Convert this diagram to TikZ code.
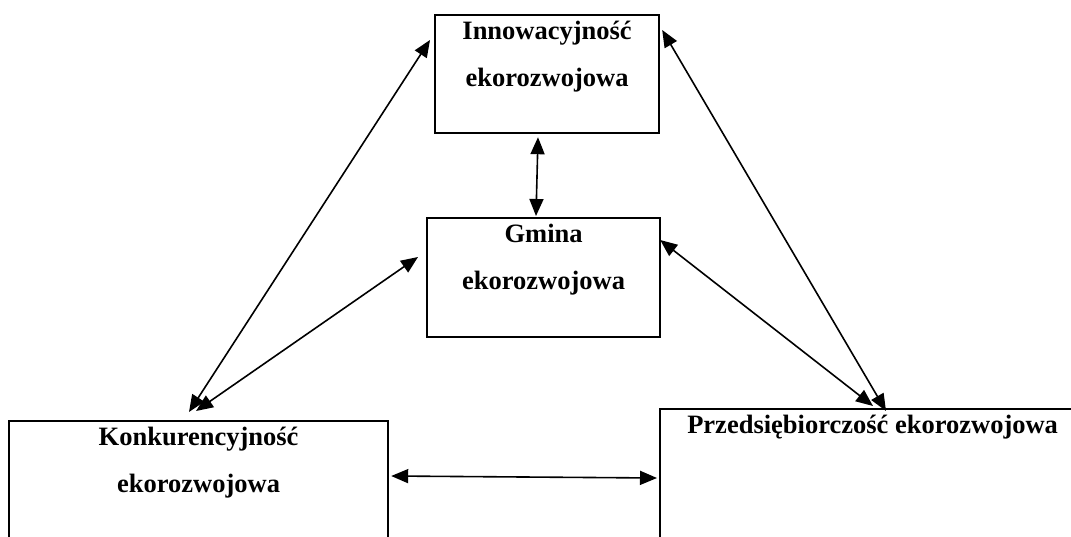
\documentclass[tikz,border=0pt]{standalone}
\usepackage{fontspec}
\setmainfont{Liberation Serif}
\usetikzlibrary{arrows.meta,positioning}
\tikzset{
	box/.style 2 args={draw,line width=2.2pt,anchor=north west,inner sep=0pt,minimum width=#1,minimum height=#2},
	lbl/.style={font=\bfseries\fontsize{26.5}{47}\selectfont,align=center,anchor=base,inner sep=0pt},
	link/.style={{Triangle[length=17pt,width=14pt]}-{Triangle[length=17pt,width=14pt]},line width=1.6pt}
}

\begin{document}
\begin{tikzpicture}[x=1pt,y=-1pt]
	\path[use as bounding box,clip] (0,0) rectangle (1071,536);

	\node [box={224pt}{118pt}] (innov) at (434,14) {};
	\node [box={233pt}{119pt}] (gmina) at (426,217) {};
	\node [box={379pt}{150pt}] (konk) at (8,420) {};
	\node [box={425pt}{160pt}] (przed) at (659,408) {};

	% base anchor = baseline of the last line
	\node [lbl] (innovtxt) at ([yshift=-72pt]innov.north) {Innowacyjność\\ekorozwojowa};
	\node [lbl] (gminatxt) at ([yshift=-72pt]gmina.north) {Gmina\\ekorozwojowa};
	\node [lbl] (konktxt) at ([yshift=-72pt]konk.north) {Konkurencyjność\\ekorozwojowa};
	\node [lbl] (przedtxt) at ([yshift=-25pt]przed.north) {Przedsiębiorczość ekorozwojowa};

	\draw [link] ([shift={(181,-8)}]konk.north west) -- ([shift={(-4,26)}]innov.north west);
	\draw [link] ([shift={(188,-9)}]konk.north west) -- ([shift={(-8,40)}]gmina.north west);
	\draw [link] ([shift={(104,3)}]innov.south west) -- ([shift={(110,-1)}]gmina.north west);
	\draw [link] ([shift={(2,16)}]innov.north east) -- ([shift={(227,3)}]przed.north west);
	\draw [link] ([shift={(-1,23)}]gmina.north east) -- ([shift={(214,-2)}]przed.north west);
	\draw [link] ([shift={(2,56)}]konk.north east) -- ([shift={(-2,70)}]przed.north west);
\end{tikzpicture}
\end{document}
